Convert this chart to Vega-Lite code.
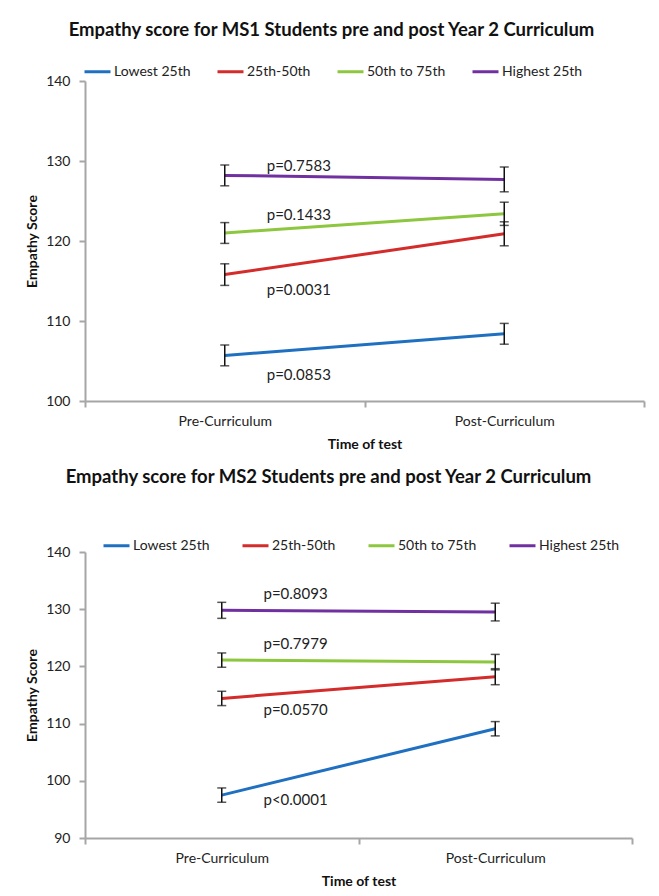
{
  "$schema": "https://vega.github.io/schema/vega-lite/v6.json",
  "padding": {"left": 25, "top": 20, "right": 5, "bottom": 5},
  "config": {
    "font": "Lato",
    "view": {"stroke": null},
    "axis": {"domainColor": "#a6a6a6", "domainWidth": 2, "tickColor": "#a6a6a6", "tickWidth": 2, "tickSize": 6, "grid": false, "labelFont": "Lato", "labelFontSize": 14, "labelColor": "#222222", "titleFont": "Lato", "titleFontSize": 14, "titleFontWeight": "bold", "titleColor": "#111111"},
    "axisY": {"labelPadding": 9, "titlePadding": 6},
    "axisX": {"labelPadding": 7, "titlePadding": 9},
    "legend": {"direction": "horizontal", "symbolType": "stroke", "symbolSize": 676, "symbolStrokeWidth": 3, "labelFont": "Lato", "labelFontSize": 14, "labelColor": "#222222", "labelOffset": 2, "title": null},
    "title": {"font": "Lato", "fontSize": 18.5, "fontWeight": "bold", "color": "#111111", "anchor": "middle"}
  },
  "datasets": {
    "ms1": [
      {"group": "Lowest 25th", "time": "Pre-Curriculum", "score": 105.7, "err": 1.3},
      {"group": "Lowest 25th", "time": "Post-Curriculum", "score": 108.4, "err": 1.3},
      {"group": "25th-50th", "time": "Pre-Curriculum", "score": 115.8, "err": 1.35},
      {"group": "25th-50th", "time": "Post-Curriculum", "score": 120.9, "err": 1.5},
      {"group": "50th to 75th", "time": "Pre-Curriculum", "score": 121.0, "err": 1.3},
      {"group": "50th to 75th", "time": "Post-Curriculum", "score": 123.4, "err": 1.45},
      {"group": "Highest 25th", "time": "Pre-Curriculum", "score": 128.2, "err": 1.3},
      {"group": "Highest 25th", "time": "Post-Curriculum", "score": 127.7, "err": 1.55}
    ],
    "ms1p": [
      {"time": "Pre-Curriculum", "ly": 129.4, "label": "p=0.7583"},
      {"time": "Pre-Curriculum", "ly": 123.2, "label": "p=0.1433"},
      {"time": "Pre-Curriculum", "ly": 113.9, "label": "p=0.0031"},
      {"time": "Pre-Curriculum", "ly": 103.3, "label": "p=0.0853"}
    ],
    "ms2": [
      {"group": "Lowest 25th", "time": "Pre-Curriculum", "score": 97.5, "err": 1.25},
      {"group": "Lowest 25th", "time": "Post-Curriculum", "score": 109.1, "err": 1.25},
      {"group": "25th-50th", "time": "Pre-Curriculum", "score": 114.4, "err": 1.25},
      {"group": "25th-50th", "time": "Post-Curriculum", "score": 118.2, "err": 1.4},
      {"group": "50th to 75th", "time": "Pre-Curriculum", "score": 121.1, "err": 1.25},
      {"group": "50th to 75th", "time": "Post-Curriculum", "score": 120.75, "err": 1.35},
      {"group": "Highest 25th", "time": "Pre-Curriculum", "score": 129.8, "err": 1.4},
      {"group": "Highest 25th", "time": "Post-Curriculum", "score": 129.5, "err": 1.55}
    ],
    "ms2p": [
      {"time": "Pre-Curriculum", "ly": 132.6, "label": "p=0.8093"},
      {"time": "Pre-Curriculum", "ly": 123.9, "label": "p=0.7979"},
      {"time": "Pre-Curriculum", "ly": 112.3, "label": "p=0.0570"},
      {"time": "Pre-Curriculum", "ly": 96.7, "label": "p<0.0001"}
    ]
  },
  "spacing": 16,
  "resolve": {"scale": {"color": "independent", "x": "independent", "y": "independent"}, "legend": {"color": "independent"}},
  "vconcat": [
    {
      "title": {"text": "Empathy score for MS1 Students pre and post Year 2 Curriculum", "dx": -33, "offset": 18},
      "width": 559,
      "height": 320,
      "layer": [
        {
          "data": {"name": "ms1"},
          "mark": {"type": "line", "strokeWidth": 3},
          "encoding": {
            "x": {"field": "time", "type": "nominal", "sort": ["Pre-Curriculum", "Post-Curriculum"], "scale": {"type": "band", "paddingInner": 0, "paddingOuter": 0}, "title": "Time of test", "axis": {"tickBand": "extent", "labelAngle": 0}},
            "y": {"field": "score", "type": "quantitative", "scale": {"domain": [100, 140], "nice": false}, "axis": {"values": [100, 110, 120, 130, 140]}, "title": "Empathy Score"},
            "color": {"field": "group", "type": "nominal", "sort": ["Lowest 25th", "25th-50th", "50th to 75th", "Highest 25th"], "scale": {"domain": ["Lowest 25th", "25th-50th", "50th to 75th", "Highest 25th"], "range": ["#1f70c1", "#d42b2b", "#8dc63f", "#7030a0"]}, "legend": {"orient": "none", "legendX": -2, "legendY": -24, "columnPadding": 20}}
          }
        },
        {
          "data": {"name": "ms1"},
          "mark": {"type": "errorbar", "color": "#111111", "thickness": 1.5, "ticks": {"size": 9, "thickness": 1.5, "color": "#111111"}},
          "encoding": {
            "x": {"field": "time", "type": "nominal", "sort": ["Pre-Curriculum", "Post-Curriculum"], "title": "Time of test"},
            "y": {"field": "score", "type": "quantitative", "title": "Empathy Score"},
            "yError": {"field": "err"}
          }
        },
        {
          "data": {"name": "ms1p"},
          "mark": {"type": "text", "fontSize": 15, "font": "Lato", "color": "#222222", "align": "center", "baseline": "middle"},
          "encoding": {
            "x": {"field": "time", "type": "nominal", "sort": ["Pre-Curriculum", "Post-Curriculum"], "bandPosition": 0.765, "title": "Time of test"},
            "y": {"field": "ly", "type": "quantitative", "title": "Empathy Score"},
            "text": {"field": "label"}
          }
        }
      ]
    },
    {
      "title": {"text": "Empathy score for MS2 Students pre and post Year 2 Curriculum", "dx": -30, "offset": 45},
      "width": 547,
      "height": 286,
      "layer": [
        {
          "data": {"name": "ms2"},
          "mark": {"type": "line", "strokeWidth": 3},
          "encoding": {
            "x": {"field": "time", "type": "nominal", "sort": ["Pre-Curriculum", "Post-Curriculum"], "scale": {"type": "band", "paddingInner": 0, "paddingOuter": 0}, "title": "Time of test", "axis": {"tickBand": "extent", "labelAngle": 0}},
            "y": {"field": "score", "type": "quantitative", "scale": {"domain": [90, 140], "nice": false}, "axis": {"values": [90, 100, 110, 120, 130, 140]}, "title": "Empathy Score"},
            "color": {"field": "group", "type": "nominal", "sort": ["Lowest 25th", "25th-50th", "50th to 75th", "Highest 25th"], "scale": {"domain": ["Lowest 25th", "25th-50th", "50th to 75th", "Highest 25th"], "range": ["#1f70c1", "#d42b2b", "#8dc63f", "#7030a0"]}, "legend": {"orient": "none", "legendX": 17, "legendY": -21, "columnPadding": 26}}
          }
        },
        {
          "data": {"name": "ms2"},
          "mark": {"type": "errorbar", "color": "#111111", "thickness": 1.5, "ticks": {"size": 9, "thickness": 1.5, "color": "#111111"}},
          "encoding": {
            "x": {"field": "time", "type": "nominal", "sort": ["Pre-Curriculum", "Post-Curriculum"], "title": "Time of test"},
            "y": {"field": "score", "type": "quantitative", "title": "Empathy Score"},
            "yError": {"field": "err"}
          }
        },
        {
          "data": {"name": "ms2p"},
          "mark": {"type": "text", "fontSize": 15, "font": "Lato", "color": "#222222", "align": "center", "baseline": "middle"},
          "encoding": {
            "x": {"field": "time", "type": "nominal", "sort": ["Pre-Curriculum", "Post-Curriculum"], "bandPosition": 0.77, "title": "Time of test"},
            "y": {"field": "ly", "type": "quantitative", "title": "Empathy Score"},
            "text": {"field": "label"}
          }
        }
      ]
    }
  ]
}
